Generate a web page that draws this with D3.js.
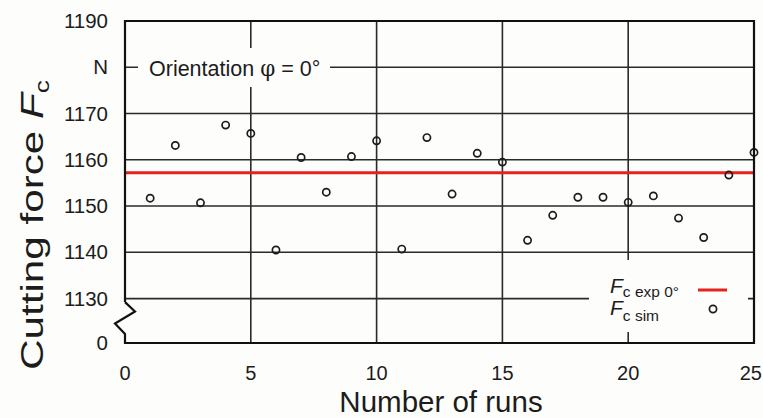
<!DOCTYPE html>
<html><head><meta charset="utf-8">
<script src="https://cdn.jsdelivr.net/npm/d3@7"></script>
<style>
html,body{margin:0;padding:0;background:#fdfdfb;}
svg{display:block;font-family:"Liberation Sans",Arial,Helvetica,sans-serif;}
</style>
</head><body>
<svg id="chart" width="763" height="418"></svg>
<script>
// ---- data ----
const runs  = [1,2,3,4,5,6,7,8,9,10,11,12,13,14,15,16,17,18,19,20,21,22,23,24,25];
const fcSim = [1151.7,1163.1,1150.7,1167.5,1165.7,1140.5,1160.5,1153.0,1160.7,1164.1,
               1140.7,1164.8,1152.6,1161.4,1159.5,1142.6,1148.0,1151.9,1151.9,1150.8,
               1152.2,1147.4,1143.2,1156.7,1161.6];
const fcExp = 1157.2;
const xTicks = [0,5,10,15,20,25];
const yTickValues = [1130,1140,1150,1160,1170,1180,1190];
const yTickLabels = ["1130","1140","1150","1160","1170","N","1190"];
const yBottomLabel = "0";
const xGrid = [5,10,15,20];
const yGrid = [1130,1140,1150,1160,1170,1180];

// ---- layout ----
const L = 125, R = 754, T = 21, B = 343;
const svg = d3.select("#chart");
const x = d3.scaleLinear().domain([0,25]).range([L,R]);
const y = d3.scaleLinear().domain([1120.4,1190]).range([B,T]);
const ink = "#1c1c1c";

// grid
svg.append("g").selectAll("line").data(yGrid).join("line")
  .attr("x1",L).attr("x2",R).attr("y1",d=>y(d)).attr("y2",d=>y(d))
  .attr("stroke","#2a2a2a").attr("stroke-width",1.6);
svg.append("g").selectAll("line").data(xGrid).join("line")
  .attr("x1",d=>x(d)).attr("x2",d=>x(d)).attr("y1",T).attr("y2",B)
  .attr("stroke","#2a2a2a").attr("stroke-width",1.6);

// white boxes behind annotation and legend
svg.append("rect").attr("x",138).attr("y",48).attr("width",192).attr("height",39).attr("fill","#fdfdfb");
svg.append("rect").attr("x",589).attr("y",260).attr("width",159).attr("height",72).attr("fill","#fdfdfb");

// experimental line
svg.append("line").attr("x1",L).attr("x2",R).attr("y1",y(fcExp)).attr("y2",y(fcExp))
  .attr("stroke","#e3231d").attr("stroke-width",3);

// simulated points
svg.append("g").selectAll("circle").data(runs).join("circle")
  .attr("cx",(d)=>x(d)).attr("cy",(d,i)=>y(fcSim[i])).attr("r",3.6)
  .attr("fill","none").attr("stroke",ink).attr("stroke-width",1.7);

// frame with axis break
const yb1 = y(1130) + 3.5;
svg.append("path")
  .attr("d",`M${L},${yb1} V${T} H${R} V${B} H${L} V${B-9} L${L-10},${B-19.5} L${L+10},${B-31.5} L${L},${yb1}`)
  .attr("fill","none").attr("stroke","#111").attr("stroke-width",2.2).attr("stroke-linejoin","miter");

// y tick labels
svg.append("g").selectAll("text").data(yTickValues).join("text")
  .attr("x",108).attr("y",d=>y(d)).attr("dy","0.35em").attr("text-anchor","end")
  .attr("font-size",20.5).attr("fill",ink).text((d,i)=>yTickLabels[i]);
svg.append("text").attr("x",108).attr("y",B).attr("dy","0.35em").attr("text-anchor","end")
  .attr("font-size",20.5).attr("fill",ink).text(yBottomLabel);

// x tick labels
svg.append("g").selectAll("text").data(xTicks).join("text")
  .attr("x",(d,i)=> i === xTicks.length-1 ? 762 : x(d)).attr("y",380)
  .attr("text-anchor",(d,i)=> i === xTicks.length-1 ? "end" : "middle")
  .attr("font-size",20).attr("fill",ink).text(d=>d);

// x title
svg.append("text").attr("x",441).attr("y",412).attr("text-anchor","middle")
  .attr("font-size",29.5).attr("fill",ink).text("Number of runs");

// y title (rotated)
const yt = svg.append("text").attr("transform","translate(43,225) rotate(-90) scale(1.32,0.97)")
  .attr("text-anchor","middle").attr("font-size",32).attr("fill",ink);
yt.append("tspan").text("Cutting force ");
yt.append("tspan").attr("font-style","italic").text("F");
yt.append("tspan").attr("font-size",20).attr("dy",6).text("c");

// annotation
const an = svg.append("text").attr("x",149).attr("y",76).attr("font-size",21.5).attr("fill",ink);
an.append("tspan").text("Orientation ");
an.append("tspan").attr("font-family","'DejaVu Serif',serif").text("φ");
an.append("tspan").text(" = 0°");

// legend
const l1 = svg.append("text").attr("x",610).attr("y",293).attr("fill",ink);
l1.append("tspan").attr("font-size",21).attr("font-style","italic").text("F");
l1.append("tspan").attr("font-size",15.5).attr("dy",4).text("c exp 0°");
const l2 = svg.append("text").attr("x",610).attr("y",315).attr("fill",ink);
l2.append("tspan").attr("font-size",21).attr("font-style","italic").text("F");
l2.append("tspan").attr("font-size",15.5).attr("dy",6).text("c sim");
svg.append("line").attr("x1",698).attr("x2",727).attr("y1",290).attr("y2",290)
  .attr("stroke","#e3231d").attr("stroke-width",3);
svg.append("circle").attr("cx",713).attr("cy",309).attr("r",3.6)
  .attr("fill","none").attr("stroke",ink).attr("stroke-width",1.7);
</script>
</body></html>
